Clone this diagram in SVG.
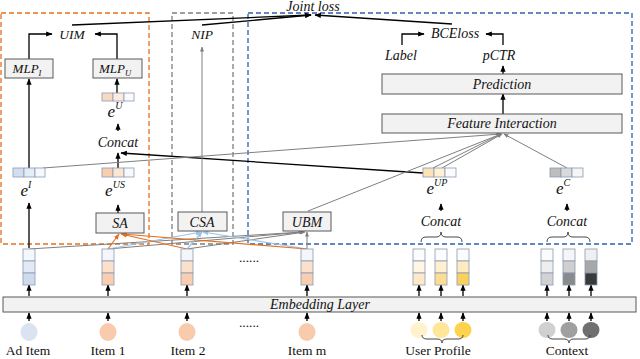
<svg xmlns="http://www.w3.org/2000/svg" width="640" height="359" viewBox="0 0 640 359">
<style>
.it{font-family:"Liberation Serif","DejaVu Serif",serif;font-style:italic;fill:#111;text-anchor:middle}
.rm{font-family:"Liberation Serif","DejaVu Serif",serif;fill:#111;text-anchor:middle;font-size:13.5px}
.box{fill:#f2f2f2;stroke:#595959;stroke-width:1}
.cell{stroke:#8c9bb3;stroke-width:0.8}
.blk{stroke:#000;stroke-width:1.3;fill:none}
.gry{stroke:#7f7f7f;stroke-width:1;fill:none}
.org{stroke:#e4701e;stroke-width:1.2;fill:none}
.lb{stroke:#9dc3e6;stroke-width:1.2;fill:none}
.brace{stroke:#333;stroke-width:0.9;fill:none}
</style>
<defs>
<marker id="ab" viewBox="0 0 10 10" refX="9" refY="5" markerWidth="5" markerHeight="5" orient="auto-start-reverse"><path d="M0,1 L10,5 L0,9 z" fill="#000"/></marker>
<marker id="ag" viewBox="0 0 10 10" refX="9" refY="5" markerWidth="5" markerHeight="5" orient="auto"><path d="M0,1 L10,5 L0,9 z" fill="#7f7f7f"/></marker>
<marker id="ao" viewBox="0 0 10 10" refX="9" refY="5" markerWidth="5" markerHeight="5" orient="auto"><path d="M0,1 L10,5 L0,9 z" fill="#e4701e"/></marker>
<marker id="al" viewBox="0 0 10 10" refX="9" refY="5" markerWidth="5" markerHeight="5" orient="auto"><path d="M0,1 L10,5 L0,9 z" fill="#9dc3e6"/></marker>
</defs>

<!-- dashed regions -->
<g id="regions" fill="none" stroke-width="1.3" stroke-dasharray="5,3">
<rect x="1" y="13" width="148" height="231" stroke="#e4701e"/>
<rect x="172" y="13" width="61" height="231" stroke="#7f7f7f"/>
<rect x="248" y="13" width="384" height="231" stroke="#2f5fb0"/>
</g>

<!-- connectors -->
<g id="connectors">
<line x1="72" y1="25" x2="311" y2="15" class="blk" marker-end="url(#ab)"/>
<line x1="202" y1="25" x2="311" y2="15" class="blk" marker-end="url(#ab)"/>
<line x1="452" y1="24" x2="315" y2="15" class="blk" marker-end="url(#ab)"/>
<path d="M29,59 V34 H52" class="blk" marker-end="url(#ab)"/>
<path d="M117,59 V34 H95" class="blk" marker-end="url(#ab)"/>
<line x1="117" y1="93" x2="117" y2="79" class="blk" stroke-width="2" marker-end="url(#ab)"/>
<line x1="118" y1="131" x2="118" y2="124" class="blk" marker-end="url(#ab)"/>
<line x1="118" y1="168" x2="118" y2="153" class="blk" marker-end="url(#ab)"/>
<line x1="423" y1="173" x2="121" y2="153" class="blk" marker-end="url(#ab)"/>
<line x1="29" y1="168" x2="29" y2="79" class="blk" marker-end="url(#ab)"/>
<line x1="29" y1="248" x2="29" y2="203" class="blk" marker-end="url(#ab)"/>
<line x1="118" y1="213" x2="118" y2="205" class="blk" marker-end="url(#ab)"/>
<path d="M402,45 V34 H424" class="blk" marker-end="url(#ab)"/>
<path d="M503,45 V34 H486" class="blk" marker-end="url(#ab)"/>
<line x1="503" y1="74" x2="503" y2="66" class="blk" marker-end="url(#ab)"/>
<line x1="503" y1="114" x2="503" y2="94" class="blk" marker-end="url(#ab)"/>
<line x1="202" y1="212" x2="202" y2="47" class="gry" marker-end="url(#ag)"/>
<line x1="43" y1="168" x2="501" y2="134" class="gry" marker-end="url(#ag)"/>
<line x1="308" y1="211" x2="501" y2="134" class="gry" marker-end="url(#ag)"/>
<line x1="433" y1="168" x2="501" y2="134" class="gry" marker-end="url(#ag)"/>
<line x1="442" y1="168" x2="502" y2="134" class="gry" marker-end="url(#ag)"/>
<line x1="567" y1="168" x2="504" y2="134" class="gry" marker-end="url(#ag)"/>
<line x1="29" y1="249" x2="303" y2="232" class="gry" marker-end="url(#ag)"/>
<line x1="108" y1="249" x2="304" y2="232" class="gry" marker-end="url(#ag)"/>
<line x1="187" y1="249" x2="305" y2="232" class="gry" marker-end="url(#ag)"/>
<line x1="307" y1="249" x2="307" y2="232" class="gry" marker-end="url(#ag)"/>
<line x1="108" y1="249" x2="201" y2="232" class="lb" marker-end="url(#al)"/>
<line x1="187" y1="249" x2="202" y2="232" class="lb" marker-end="url(#al)"/>
<line x1="307" y1="249" x2="203" y2="232" class="lb" marker-end="url(#al)"/>
<line x1="108" y1="249" x2="119" y2="234" class="org" marker-end="url(#ao)"/>
<line x1="187" y1="249" x2="121" y2="234" class="org" marker-end="url(#ao)"/>
<line x1="307" y1="249" x2="122" y2="234" class="org" marker-end="url(#ao)"/>
<g class="blk" stroke-width="1.1">
<line x1="29" y1="296" x2="29" y2="285" marker-end="url(#ab)"/>
<line x1="108" y1="296" x2="108" y2="285" marker-end="url(#ab)"/>
<line x1="187" y1="296" x2="187" y2="285" marker-end="url(#ab)"/>
<line x1="307" y1="296" x2="307" y2="285" marker-end="url(#ab)"/>
<line x1="419" y1="296" x2="419" y2="285" marker-end="url(#ab)"/>
<line x1="441" y1="296" x2="441" y2="285" marker-end="url(#ab)"/>
<line x1="463" y1="296" x2="463" y2="285" marker-end="url(#ab)"/>
<line x1="547" y1="296" x2="547" y2="285" marker-end="url(#ab)"/>
<line x1="569" y1="296" x2="569" y2="285" marker-end="url(#ab)"/>
<line x1="591" y1="296" x2="591" y2="285" marker-end="url(#ab)"/>
<line x1="29" y1="321" x2="29" y2="313" marker-end="url(#ab)"/>
<line x1="108" y1="321" x2="108" y2="313" marker-end="url(#ab)"/>
<line x1="187" y1="321" x2="187" y2="313" marker-end="url(#ab)"/>
<line x1="307" y1="321" x2="307" y2="313" marker-end="url(#ab)"/>
<line x1="419" y1="321" x2="419" y2="313" marker-end="url(#ab)"/>
<line x1="441" y1="321" x2="441" y2="313" marker-end="url(#ab)"/>
<line x1="463" y1="321" x2="463" y2="313" marker-end="url(#ab)"/>
<line x1="547" y1="321" x2="547" y2="313" marker-end="url(#ab)"/>
<line x1="569" y1="321" x2="569" y2="313" marker-end="url(#ab)"/>
<line x1="591" y1="321" x2="591" y2="313" marker-end="url(#ab)"/>
<line x1="441" y1="211" x2="441" y2="204" marker-end="url(#ab)"/>
<line x1="567" y1="211" x2="567" y2="204" marker-end="url(#ab)"/>
</g>
</g>

<g id="joint-loss"><text x="313" y="11" class="it" font-size="14">Joint loss</text></g>
<g id="uim"><text x="72" y="39" class="it" font-size="13.5">UIM</text></g>
<g id="nip"><text x="202" y="39" class="it" font-size="13.5">NIP</text></g>
<g id="bceloss"><text x="455" y="38" class="it" font-size="14">BCEloss</text></g>
<g id="label"><text x="401" y="60" class="it" font-size="14">Label</text></g>
<g id="pctr"><text x="499" y="60" class="it" font-size="14">pCTR</text></g>

<g id="mlp-i"><rect x="5" y="59" width="48" height="19" class="box"/><text x="27" y="73" class="it" font-size="13">MLP<tspan font-size="8.5" dy="3">I</tspan></text></g>
<g id="mlp-u"><rect x="93" y="59" width="49" height="19" class="box"/><text x="115" y="73" class="it" font-size="13">MLP<tspan font-size="8.5" dy="3">U</tspan></text></g>

<g id="prediction"><rect x="382" y="74" width="240" height="20" class="box"/><text x="502" y="88.5" class="it" font-size="14">Prediction</text></g>
<g id="feature-interaction"><rect x="382" y="114" width="240" height="19" class="box"/><text x="502" y="128" class="it" font-size="14">Feature Interaction</text></g>

<g id="e-u">
<rect x="102" y="93" width="11" height="8" fill="#fbd9c0" class="cell"/><rect x="113" y="93" width="11" height="8" fill="#fdebde" class="cell"/><rect x="124" y="93" width="10" height="8" fill="#fafbfd" class="cell"/>
<text x="115" y="117" class="it" font-size="17">e<tspan font-size="10" dy="-8">U</tspan></text>
</g>
<g id="concat-u"><text x="118" y="147" class="it" font-size="14">Concat</text></g>
<g id="e-i">
<rect x="13" y="168" width="11" height="9" fill="#d3dff0" class="cell"/><rect x="24" y="168" width="11" height="9" fill="#e4ecf6" class="cell"/><rect x="35" y="168" width="10" height="9" fill="#f6f8fb" class="cell"/>
<text x="26" y="196" class="it" font-size="17">e<tspan font-size="10" dy="-8">I</tspan></text>
</g>
<g id="e-us">
<rect x="102" y="168" width="11" height="9" fill="#f9cdb0" class="cell"/><rect x="113" y="168" width="11" height="9" fill="#fde5d4" class="cell"/><rect x="124" y="168" width="10" height="9" fill="#f8f9fc" class="cell"/>
<text x="115" y="196" class="it" font-size="17">e<tspan font-size="10" dy="-8">US</tspan></text>
</g>
<g id="e-up">
<rect x="423" y="168" width="11" height="9" fill="#fde2b6" class="cell"/><rect x="434" y="168" width="11" height="9" fill="#fff0d6" class="cell"/><rect x="445" y="168" width="11" height="9" fill="#fafbfd" class="cell"/>
<text x="437" y="194" class="it" font-size="17">e<tspan font-size="10" dy="-8">UP</tspan></text>
</g>
<g id="e-c">
<rect x="550" y="168" width="11" height="9" fill="#bdbdbd" class="cell"/><rect x="561" y="168" width="11" height="9" fill="#dadada" class="cell"/><rect x="572" y="168" width="11" height="9" fill="#f6f6f6" class="cell"/>
<text x="563" y="194" class="it" font-size="17">e<tspan font-size="10" dy="-8">C</tspan></text>
</g>
<g id="concat-up"><text x="441" y="226" class="it" font-size="14">Concat</text>
<path d="M421,242 Q421,237 426,237 L436,237 Q441,237 441,232 Q441,237 446,237 L457,237 Q462,237 462,242" class="brace"/></g>
<g id="concat-c"><text x="567" y="226" class="it" font-size="14">Concat</text>
<path d="M547,242 Q547,237 552,237 L563,237 Q568,237 568,232 Q568,237 573,237 L585,237 Q590,237 590,242" class="brace"/></g>

<g id="sa"><rect x="96" y="213" width="48" height="20" class="box"/><text x="120" y="227.5" class="it" font-size="14">SA</text></g>
<g id="csa"><rect x="178" y="212" width="49" height="19" class="box"/><text x="202" y="226.5" class="it" font-size="14">CSA</text></g>
<g id="ubm"><rect x="283" y="212" width="48" height="19" class="box"/><text x="307" y="226.5" class="it" font-size="14">UBM</text></g>

<g id="vec-ad" class="cell"><rect x="23" y="249" width="12" height="12" fill="#f4f7fb"/><rect x="23" y="261" width="12" height="12" fill="#e3eaf5"/><rect x="23" y="273" width="12" height="12" fill="#cfdbed"/></g>
<g id="vec-item1" class="cell"><rect x="102" y="249" width="12" height="12" fill="#f4f6fb"/><rect x="102" y="261" width="12" height="12" fill="#fbe0cc"/><rect x="102" y="273" width="12" height="12" fill="#f8cdb0"/></g>
<g id="vec-item2" class="cell"><rect x="181" y="249" width="12" height="12" fill="#f4f6fb"/><rect x="181" y="261" width="12" height="12" fill="#fbe0cc"/><rect x="181" y="273" width="12" height="12" fill="#f8cdb0"/></g>
<g id="vec-itemm" class="cell"><rect x="301" y="249" width="12" height="12" fill="#f4f6fb"/><rect x="301" y="261" width="12" height="12" fill="#fbe0cc"/><rect x="301" y="273" width="12" height="12" fill="#f8cdb0"/></g>
<g id="vec-up" class="cell">
<rect x="413" y="249" width="12" height="12" fill="#fcfcfd"/><rect x="413" y="261" width="12" height="12" fill="#fff6e6"/><rect x="413" y="273" width="12" height="12" fill="#fde9c8"/>
<rect x="435" y="249" width="12" height="12" fill="#fcfcfd"/><rect x="435" y="261" width="12" height="12" fill="#fff0d0"/><rect x="435" y="273" width="12" height="12" fill="#fddc94"/>
<rect x="457" y="249" width="12" height="12" fill="#fcfcfd"/><rect x="457" y="261" width="12" height="12" fill="#feebbf"/><rect x="457" y="273" width="12" height="12" fill="#fcd05e"/>
</g>
<g id="vec-ctx" class="cell">
<rect x="541" y="249" width="12" height="12" fill="#fbfbfb"/><rect x="541" y="261" width="12" height="12" fill="#eeeeee"/><rect x="541" y="273" width="12" height="12" fill="#d2d2d2"/>
<rect x="563" y="249" width="12" height="12" fill="#f6f6f6"/><rect x="563" y="261" width="12" height="12" fill="#cfcfcf"/><rect x="563" y="273" width="12" height="12" fill="#8a8a8a"/>
<rect x="585" y="249" width="12" height="12" fill="#f0f0f0"/><rect x="585" y="261" width="12" height="12" fill="#a8a8a8"/><rect x="585" y="273" width="12" height="12" fill="#3a3a3a"/>
</g>
<g id="dots"><text x="249" y="262" class="rm" font-size="10">......</text><text x="249" y="327" class="rm" font-size="10">......</text></g>

<g id="embedding-layer"><rect x="3" y="297" width="633" height="15" fill="#f2f2f2" stroke="#595959" stroke-width="1"/><text x="320" y="309" class="it" font-size="14">Embedding Layer</text></g>

<g id="in-ad"><ellipse cx="29" cy="332" rx="8.5" ry="9" fill="#dae3f0"/><text x="28" y="355" class="rm">Ad Item</text></g>
<g id="in-item1"><ellipse cx="108" cy="332" rx="8.5" ry="9" fill="#f8cbad"/><text x="108" y="355" class="rm">Item 1</text></g>
<g id="in-item2"><ellipse cx="187" cy="332" rx="8.5" ry="9" fill="#f8cbad"/><text x="188" y="355" class="rm">Item 2</text></g>
<g id="in-itemm"><ellipse cx="307" cy="332" rx="8.5" ry="9" fill="#f8cbad"/><text x="307" y="355" class="rm">Item m</text></g>
<g id="in-user-profile">
<ellipse cx="419" cy="330" rx="8.5" ry="8" fill="#fff2cc"/><ellipse cx="441" cy="330" rx="8.5" ry="8" fill="#ffe699"/><ellipse cx="463" cy="330" rx="8.5" ry="8" fill="#ffd24d"/>
<path d="M422,335 Q422,339 427,339 L437,339 Q442,339 442,343 Q442,339 447,339 L458,339 Q463,339 463,335" class="brace"/>
<text x="438" y="355" class="rm">User Profile</text></g>
<g id="in-context">
<ellipse cx="547" cy="330" rx="8.5" ry="8" fill="#d0d0d0"/><ellipse cx="569" cy="330" rx="8.5" ry="8" fill="#a0a0a0"/><ellipse cx="591" cy="330" rx="8.5" ry="8" fill="#707070"/>
<path d="M548,335 Q548,339 553,339 L564,339 Q569,339 569,343 Q569,339 574,339 L585,339 Q590,339 590,335" class="brace"/>
<text x="567" y="355" class="rm">Context</text></g>
</svg>
